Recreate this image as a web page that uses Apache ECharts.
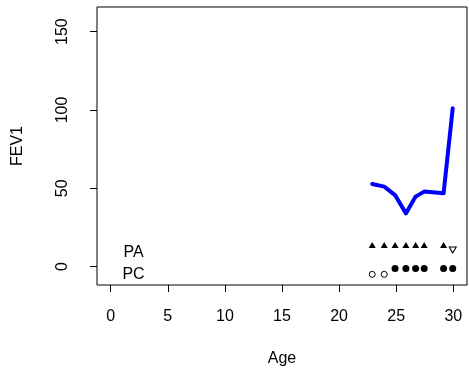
<!DOCTYPE html>
<html>
<head>
<meta charset="utf-8">
<script src="https://cdn.jsdelivr.net/npm/echarts@6/dist/echarts.min.js"></script>
<style>
  html, body { margin: 0; padding: 0; background: #fff; }
  #chart { width: 469px; height: 369px; }
</style>
</head>
<body>
<div id="chart"></div>
<script>
// Ages at which each visit was recorded
const ages = [22.9, 23.95, 24.9, 25.85, 26.7, 27.45, 29.15, 29.95];
// FEV1 per visit
const fev1 = [52.8, 51.1, 45.7, 34.0, 44.7, 47.9, 46.8, 101.1];

// Row markers: PA (filled = present, open down-triangle = absent)
const paPresentAges = [22.9, 23.95, 24.9, 25.85, 26.7, 27.45, 29.15];
const paAbsentAges = [29.95];
// Row markers: PC (filled = present, open circle = absent)
const pcPresentAges = [24.9, 25.85, 26.7, 27.45, 29.15, 29.95];
const pcAbsentAges = [22.9, 23.95];

// Vertical placement of the marker rows
const paPresentY = 13.8;
const paAbsentY = 10.6;
const pcPresentY = -1.1;
const pcAbsentY = -4.9;

// Row labels
const rowLabels = ['PA', 'PC'];
const rowLabelX = 2;
const rowLabelY = [9.0, -5.0];

// Tick values
const xTicks = [0, 5, 10, 15, 20, 25, 30];
const yTicks = [0, 50, 100, 150];

const font = '"Liberation Sans", Arial, Helvetica, sans-serif';

const chart = echarts.init(document.getElementById('chart'), null, { renderer: 'canvas' });

const pairs = (xs, y) => xs.map(x => [x, y]);

chart.setOption({
  animation: false,
  backgroundColor: '#ffffff',
  grid: {
    left: 97, right: 2, top: 7, bottom: 84,
    outerBoundsMode: 'none', containLabel: false,
    show: true, borderColor: '#000', borderWidth: 1, backgroundColor: 'transparent'
  },
  xAxis: {
    type: 'value', min: -1.2, max: 31.2,
    splitLine: { show: false },
    axisLine: { show: false, onZero: false },
    axisTick: { show: true, inside: false, length: 7, customValues: xTicks, lineStyle: { color: '#000', width: 1 } },
    axisLabel: { show: true, customValues: xTicks, margin: 24, color: '#000', fontSize: 16, fontFamily: font },
    name: 'Age', nameLocation: 'middle', nameGap: 66,
    nameTextStyle: { color: '#000', fontSize: 16, fontFamily: font }
  },
  yAxis: {
    type: 'value', min: -11.7, max: 165.7,
    splitLine: { show: false },
    axisLine: { show: false, onZero: false },
    axisTick: { show: true, inside: false, length: 7, customValues: yTicks, lineStyle: { color: '#000', width: 1 } },
    axisLabel: { show: true, customValues: yTicks, rotate: 90, margin: 26, color: '#000', fontSize: 16, fontFamily: font },
    name: 'FEV1', nameLocation: 'middle', nameGap: 71, nameRotate: 90,
    nameTextStyle: { color: '#000', fontSize: 16, fontFamily: font }
  },
  series: [
    {
      type: 'line',
      data: ages.map((a, i) => [a, fev1[i]]),
      showSymbol: false,
      lineStyle: { color: '#0000ff', width: 4, cap: 'round', join: 'round' },
      z: 3
    },
    {
      type: 'scatter',
      data: pairs(paPresentAges, paPresentY),
      symbol: 'triangle', symbolSize: [7, 6],
      itemStyle: { color: '#000', opacity: 1 }
    },
    {
      type: 'scatter',
      data: pairs(paAbsentAges, paAbsentY),
      symbol: 'triangle', symbolRotate: 180, symbolSize: [7, 6],
      itemStyle: { color: '#fff', borderColor: '#000', borderWidth: 1, opacity: 1 }
    },
    {
      type: 'scatter',
      data: pairs(pcPresentAges, pcPresentY),
      symbol: 'circle', symbolSize: 7,
      itemStyle: { color: '#000', opacity: 1 }
    },
    {
      type: 'scatter',
      data: pairs(pcAbsentAges, pcAbsentY),
      symbol: 'circle', symbolSize: 6,
      itemStyle: { color: '#fff', borderColor: '#000', borderWidth: 1, opacity: 1 }
    },
    {
      type: 'scatter',
      data: rowLabels.map((n, i) => ({ name: n, value: [rowLabelX, rowLabelY[i]] })),
      symbolSize: 0,
      itemStyle: { opacity: 1 },
      label: {
        show: true, position: 'inside', formatter: '{b}',
        color: '#000', fontSize: 16, fontFamily: font
      }
    }
  ]
});
</script>
</body>
</html>
